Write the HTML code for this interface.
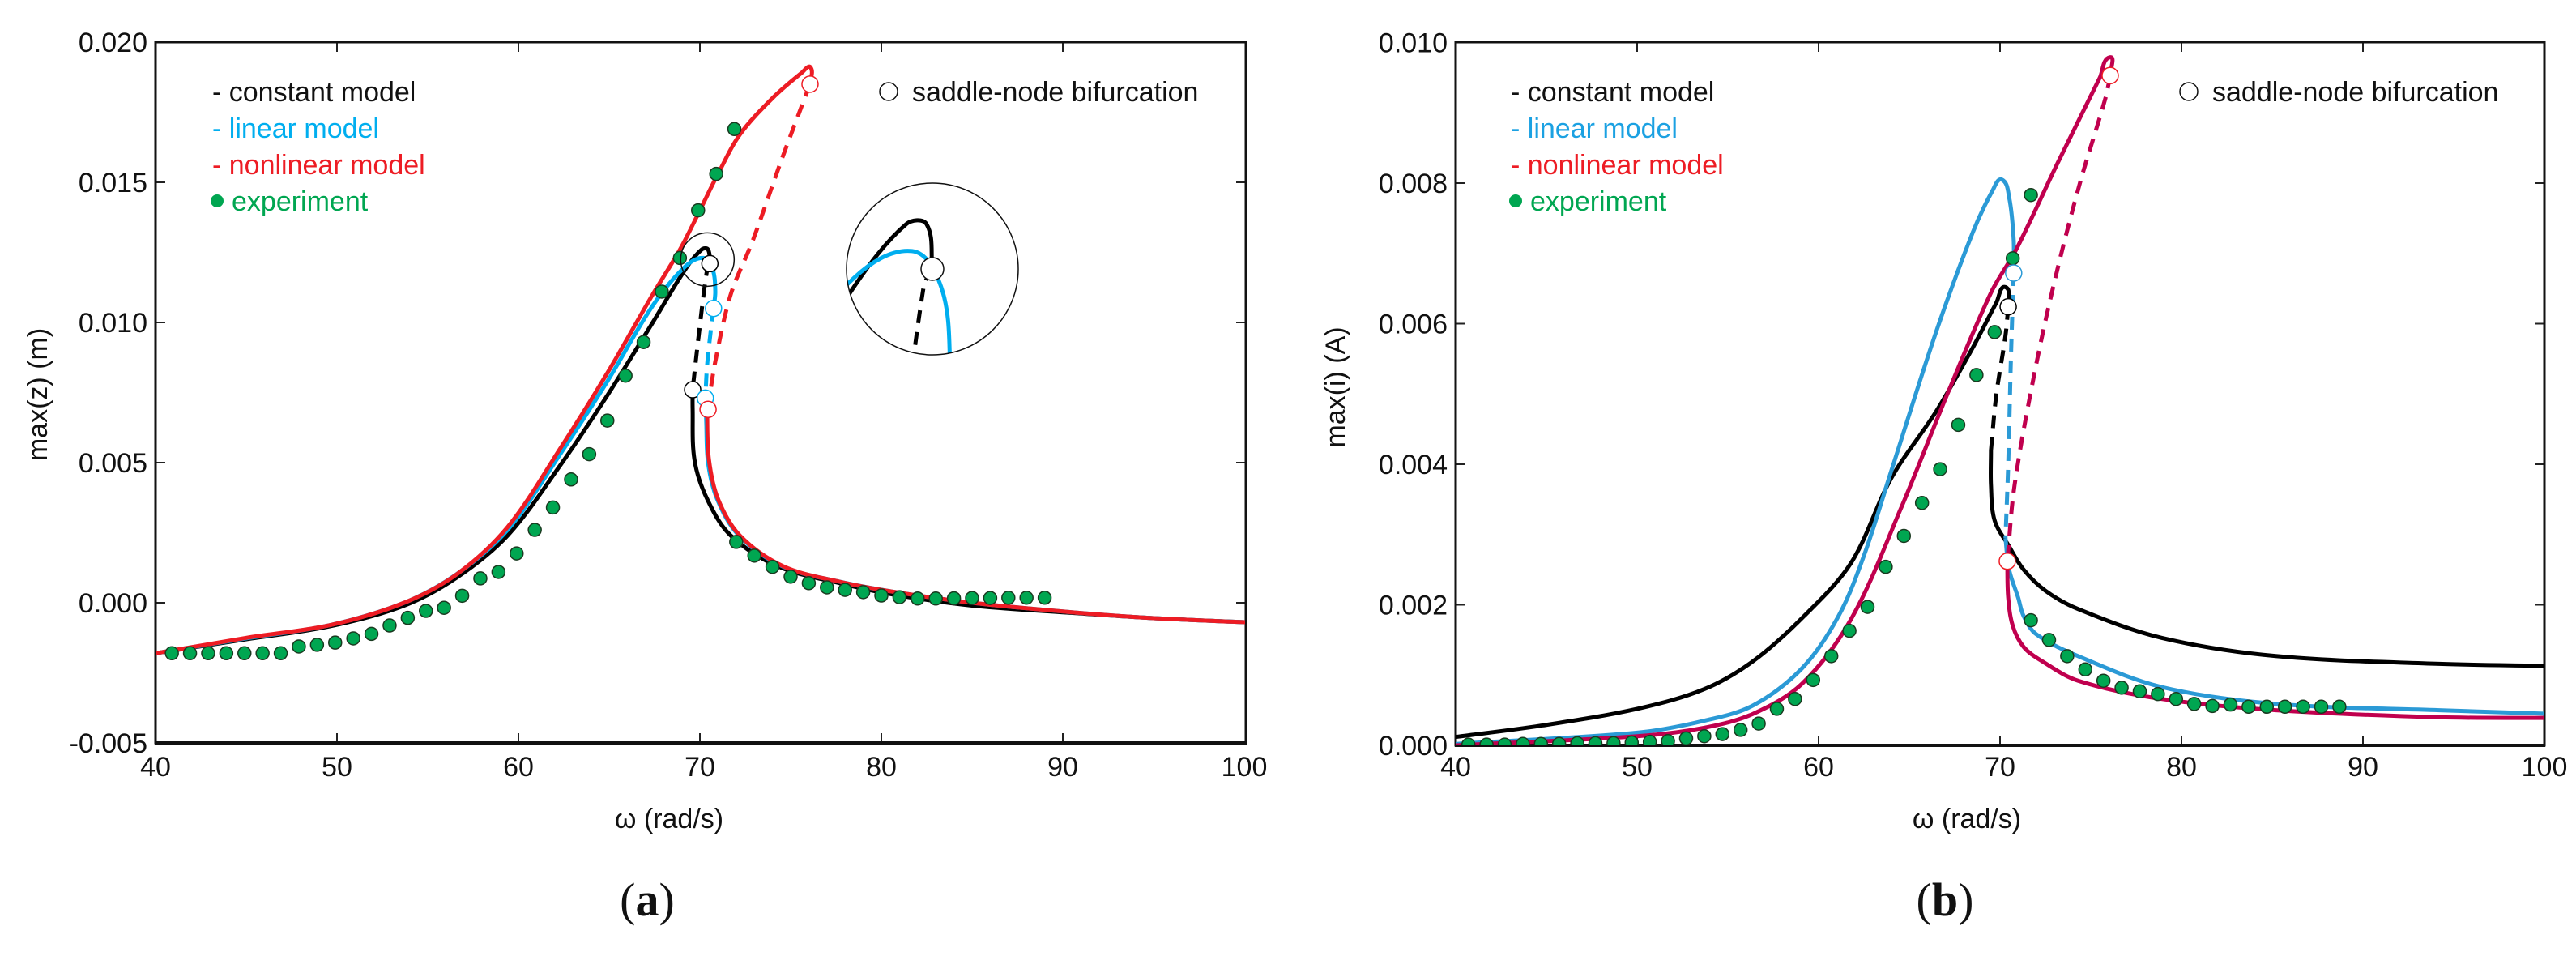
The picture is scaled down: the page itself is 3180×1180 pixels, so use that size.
<!DOCTYPE html>
<html><head><meta charset="utf-8">
<style>
html,body{margin:0;padding:0;background:#fff;width:3180px;height:1180px;overflow:hidden;}
svg{display:block;font-family:"Liberation Sans",sans-serif;}
</style></head>
<body>
<svg id="fig" width="3180" height="1180" viewBox="0 0 3180 1180" xmlns="http://www.w3.org/2000/svg">
<g id="panelA"></g>
<g id="panelB"></g>
</svg>
<script>
// ---------- Panel (a) data: max(z) [m] vs omega [rad/s] ----------
const aXTicks = [40,50,60,70,80,90,100];
const aYTicks = [-0.005,0.000,0.005,0.010,0.015,0.020];
const aYTickLabels = ["-0.005","0.000","0.005","0.010","0.015","0.020"];

const aConstUpW = [40,45,49.6,53.7,56.6,59.4,62.3,64.9,67.4,69.2,70.1,70.45,70.55];
const aConstUpV = [-0.0018,-0.0013,-0.00084,-0.0001,0.0009,0.0024,0.0049,0.0074,0.0100,0.0119,0.0126,0.0126,0.0121];
const aConstDashW = [70.55,70.4,70.0,69.6];
const aConstDashV = [0.0121,0.0119,0.0099,0.0076];
const aConstLowW = [69.6,69.6,69.7,70.4,71.7,74.3,77.7,80.6,85,90.7,95,100.2];
const aConstLowV = [0.0076,0.0070,0.0051,0.0037,0.0024,0.0013,0.0007,0.0003,-0.0001,-0.00037,-0.00055,-0.0007];

const aLinUpW = [40,45,49.6,53.7,56.6,59.4,62.3,64.9,67.4,69.2,70.2,70.7,70.85,70.75];
const aLinUpV = [-0.0018,-0.00127,-0.0008,0.0000,0.00102,0.0026,0.0053,0.0079,0.0106,0.0120,0.0123,0.0119,0.0111,0.0105];
const aLinDashW = [70.75,70.6,70.4,70.3];
const aLinDashV = [0.0105,0.0097,0.0085,0.0073];
const aLinLowW = [70.3,70.35,70.45,70.95,72.15,74.55,77.7,80.6,85,90.7,95,100.2];
const aLinLowV = [0.0073,0.0065,0.0050,0.0037,0.0024,0.0013,0.00075,0.0004,0.0000,-0.00035,-0.00055,-0.0007];

const aNonUpW = [40,45,49.6,53.7,56.65,59.4,62.3,64.9,67.4,68.9,70.0,71.0,72.2,74.0,75.6,76.1,76.07];
const aNonUpV = [-0.0018,-0.00125,-0.0008,0.0000,0.00104,0.0027,0.0055,0.0082,0.0110,0.0126,0.0140,0.0153,0.0167,0.0180,0.0189,0.0191,0.0185];
const aNonDashW = [76.07,75.6,74.5,72.9,71.7,70.85,70.45];
const aNonDashV = [0.0185,0.0177,0.0158,0.0129,0.0110,0.0086,0.0070];
const aNonLowW = [70.45,70.4,70.5,71.0,72.2,74.6,77.7,80.6,85,90.7,95,100.2];
const aNonLowV = [0.0070,0.0067,0.0051,0.0037,0.0024,0.0013,0.00075,0.0004,0.0000,-0.00035,-0.00055,-0.0007];

const aExpW = [40.9,41.9,42.9,43.9,44.9,45.9,46.9,47.9,48.9,49.9,50.9,51.9,52.9,53.9,54.9,55.9,56.9,57.9,58.9,59.9,60.9,61.9,62.9,63.9,64.9,65.9,66.9,67.9,68.9,69.9,70.9,71.9,
               72.0,73.0,74.0,75.0,76.0,77.0,78.0,79.0,80.0,81.0,82.0,83.0,84.0,85.0,86.0,87.0,88.0,89.0];
const aExpV = [-0.0018,-0.0018,-0.0018,-0.0018,-0.0018,-0.0018,-0.0018,-0.00156,-0.0015,-0.00142,-0.00127,-0.00111,-0.00081,-0.00054,-0.00029,-0.00018,0.00025,0.00087,0.0011,0.00176,0.0026,0.0034,0.0044,0.0053,0.0065,0.0081,0.0093,0.0111,0.0123,0.0140,0.0153,0.0169,
               0.00217,0.00168,0.00128,0.00093,0.0007,0.00055,0.00046,0.00038,0.00026,0.0002,0.00015,0.00015,0.00016,0.00017,0.00017,0.00018,0.00018,0.00018];

const aBifW = [70.55,69.6,70.75,70.3,76.07,70.45];
const aBifV = [0.0121,0.0076,0.0105,0.0073,0.0185,0.0069];
const aBifC = ["#000","#000","#00aeef","#00aeef","#ed1c24","#ed1c24"];

// ---------- Panel (b) data: max(i) [A] vs omega [rad/s] ----------
const bXTicks = [40,50,60,70,80,90,100];
const bYTicks = [0,0.002,0.004,0.006,0.008,0.010];
const bYTickLabels = ["0.000","0.002","0.004","0.006","0.008","0.010"];

const bConstUpW = [40,44.7,50,53.7,56.4,59.2,61.8,64.0,66.5,68.5,69.8,70.3,70.45];
const bConstUpV = [0.00012,0.00028,0.00052,0.0008,0.0012,0.00184,0.0026,0.0038,0.00476,0.00566,0.0063,0.00652,0.00624];
const bConstDashW = [70.45,70.3,69.8,69.5];
const bConstDashV = [0.00624,0.00583,0.0050,0.0042];
const bConstLowW = [69.5,69.5,69.7,70.5,71.3,72.5,74.3,78.9,85.2,94.2,100.2];
const bConstLowV = [0.0042,0.0037,0.0032,0.00283,0.0025,0.0022,0.00194,0.00153,0.00127,0.00116,0.00113];

const bLinUpW = [40,50,53.7,56.4,59.1,61.1,62.5,64.0,66.5,68.5,69.6,70.1,70.5,70.75,70.75];
const bLinUpV = [0.00002,0.00018,0.00035,0.00057,0.0011,0.00184,0.0027,0.0039,0.0059,0.0073,0.0079,0.00805,0.0078,0.0072,0.00672];
const bLinDashW = [70.75,70.6,70.45,70.3];
const bLinDashV = [0.00672,0.0055,0.0040,0.00295];
const bLinLowW = [70.3,70.5,71.0,71.3,72.0,74.3,78.9,85.2,94.2,100.2];
const bLinLowV = [0.00295,0.0025,0.0021,0.00184,0.00158,0.00127,0.00083,0.00059,0.0005,0.00045];

const bNonUpW = [40,50,53.7,56.4,59.1,61.8,64.5,67.1,69.5,70.9,73.2,75.5,76.05,76.07];
const bNonUpV = [0.0000,0.00013,0.00025,0.00045,0.00088,0.0018,0.00335,0.0050,0.00644,0.00706,0.0083,0.0095,0.00979,0.00953];
const bNonDashW = [76.07,75.8,74.4,73.0,71.9,70.8,70.4];
const bNonDashV = [0.00953,0.0092,0.0080,0.0066,0.0053,0.0037,0.00262];
const bNonLowW = [70.4,70.45,70.7,71.3,72.3,74.3,78.9,85.2,94.2,100.2];
const bNonLowV = [0.00262,0.0021,0.0017,0.0014,0.0012,0.00092,0.00066,0.0005,0.0004,0.00039];

const bExpW = [40.7,41.7,42.7,43.7,44.7,45.7,46.7,47.7,48.7,49.7,50.7,51.7,52.7,53.7,54.7,55.7,56.7,57.7,58.7,59.7,60.7,61.7,62.7,63.7,64.7,65.7,66.7,67.7,68.7,69.7,70.7,71.7,
               71.7,72.7,73.7,74.7,75.7,76.7,77.7,78.7,79.7,80.7,81.7,82.7,83.7,84.7,85.7,86.7,87.7,88.7];
const bExpV = [0.00001,0.00001,0.00001,0.00002,0.00002,0.00002,0.00003,0.00003,0.00003,0.00004,0.00005,0.00006,0.0001,0.00013,0.00016,0.00022,0.00031,0.00052,0.00066,0.00093,0.00127,0.00163,0.00197,0.00254,0.00298,0.00345,0.00393,0.00456,0.00527,0.00588,0.00693,0.00783,
               0.00178,0.0015,0.00127,0.00108,0.00092,0.00082,0.00077,0.00073,0.00066,0.00059,0.00056,0.00058,0.00055,0.00055,0.00055,0.00055,0.00055,0.00055];

const bBifW = [70.45,70.75,76.07,70.4];
const bBifV = [0.00624,0.00672,0.00953,0.00262];
const bBifC = ["#000","#2b9ad6","#ed1c24","#ed1c24"];

// ---------- helpers ----------
const NS = "http://www.w3.org/2000/svg";
function mk(parent, tag, attrs, name, inter){
  const el = document.createElementNS(NS, tag);
  for (const k in attrs) el.setAttribute(k, attrs[k]);
  
  
  parent.appendChild(el);
  return el;
}
function smoothPath(pts){
  if (pts.length < 2) return "";
  let d = "M" + pts[0][0].toFixed(1) + "," + pts[0][1].toFixed(1);
  const dist = (a,b)=>Math.hypot(a[0]-b[0],a[1]-b[1]);
  for (let i = 0; i < pts.length - 1; i++){
    const p0 = pts[Math.max(0,i-1)], p1 = pts[i], p2 = pts[i+1], p3 = pts[Math.min(pts.length-1,i+2)];
    const seg = dist(p1,p2);
    const l1 = dist(p0,p2) || 1, l2 = dist(p1,p3) || 1;
    const k1 = seg/3/l1, k2 = seg/3/l2;
    const c1 = [p1[0] + (p2[0]-p0[0])*k1, p1[1] + (p2[1]-p0[1])*k1];
    const c2 = [p2[0] - (p3[0]-p1[0])*k2, p2[1] - (p3[1]-p1[1])*k2];
    d += " C" + c1[0].toFixed(1)+","+c1[1].toFixed(1)+" "+c2[0].toFixed(1)+","+c2[1].toFixed(1)+" "+p2[0].toFixed(1)+","+p2[1].toFixed(1);
  }
  return d;
}
function pts(ws, vs, xs, ys){ return ws.map((w,i)=>[xs(w), ys(vs[i])]); }

function axes(g, cfg){
  const {x0,x1,yTop,yBot,xs,ys,xTicks,yTicks,yLabels,ylabel,panel,cx} = cfg;
  xTicks.forEach(t=>{
    const x = xs(t);
    if (t>40 && t<100){
      mk(g,'line',{x1:x,x2:x,y1:yBot,y2:yBot-12,stroke:'#222','stroke-width':2},'x-tick-bottom',false);
      mk(g,'line',{x1:x,x2:x,y1:yTop,y2:yTop+12,stroke:'#222','stroke-width':2},'x-tick-top',false);
    }
    const tl = mk(g,'text',{x:x, y:958, 'font-size':34,'text-anchor':'middle',fill:'#111'},'x-tick-label',false);
    tl.textContent = String(t);
  });
  yTicks.forEach((t,i)=>{
    const y = ys(t);
    mk(g,'line',{x1:x0,x2:x0+12,y1:y,y2:y,stroke:'#222','stroke-width':2},'y-tick-left',false);
    mk(g,'line',{x1:x1,x2:x1-12,y1:y,y2:y,stroke:'#222','stroke-width':2},'y-tick-right',false);
    const tl = mk(g,'text',{x:x0-10, y:y+12, 'font-size':34,'text-anchor':'end',fill:'#111'},'y-tick-label',false);
    tl.textContent = yLabels[i];
  });
  mk(g,'rect',{x:x0,y:yTop,width:x1-x0,height:yBot-yTop,fill:'none',stroke:'#111','stroke-width':3},'plot-frame',false);
  mk(g,'line',{x1:x0-1,x2:x1+1,y1:yBot,y2:yBot,stroke:'#111','stroke-width':4},'x-axis-line',false);
  const xl = mk(g,'text',{x:cx, y:1022,'font-size':34,'text-anchor':'middle',fill:'#111'},'x-axis-title',false);
  xl.textContent = "ω (rad/s)";
  const yl = mk(g,'text',{x:0,y:0,'font-size':34,'text-anchor':'middle',fill:'#111',transform:`translate(${cfg.ylx},${cfg.yly}) rotate(-90)`},'y-axis-title',false);
  yl.textContent = ylabel;
  const pl = mk(g,'text',{x:cx-27,y:1130,'font-size':58,'text-anchor':'middle',fill:'#111','font-family':'"Liberation Serif",serif'},'panel-label',false);
  pl.innerHTML = '(<tspan font-weight="bold">'+panel+'</tspan>)';
}

function line(g, p, color, dashed, name, w){
  const a = {d:smoothPath(p), fill:'none', stroke:color, 'stroke-width':w||5, 'stroke-linejoin':'round','stroke-linecap':'butt'};
  if (dashed) a['stroke-dasharray'] = '16 11';
  mk(g,'path',a,name,false);
}

function legend(g, lx, blue, red, green, sx){
  const rows = [["- ","constant model","#111"],["- ","linear model",blue],["- ","nonlinear model",red]];
  rows.forEach((r,i)=>{
    const t = mk(g,'text',{x:lx,y:125+i*45,'font-size':34,fill:r[2]},'legend-entry',false);
    t.textContent = r[0]+r[1];
  });
  mk(g,'circle',{cx:lx+6,cy:248,r:8,fill:green},'legend-marker-experiment',false);
  const t4 = mk(g,'text',{x:lx+24,y:260,'font-size':34,fill:green},'legend-entry',false);
  t4.textContent = "experiment";
  mk(g,'circle',{cx:sx,cy:113,r:11,fill:'#fff',stroke:'#111','stroke-width':1.5},'legend-marker-bifurcation',false);
  const t5 = mk(g,'text',{x:sx+29,y:125,'font-size':34,fill:'#111'},'legend-entry',false);
  t5.textContent = "saddle-node bifurcation";
}

// ---------- Panel A ----------
(function(){
  const g = document.getElementById('panelA');
  const xs = w => 192 + (w-40)*22.4;
  const ys = v => 744 - v*34600;
  axes(g,{x0:192,x1:1538,yTop:52,yBot:917,xs,ys,xTicks:aXTicks,yTicks:aYTicks,yLabels:aYTickLabels,ylabel:"max(z) (m)",panel:"a",cx:826,ylx:58,yly:487});
  const clip = mk(g,'clipPath',{id:'clipA'},'plot-clip',false);
  mk(clip,'rect',{x:193,y:53,width:1344,height:863},'plot-clip-rect',false);
  const pg = mk(g,'g',{'clip-path':'url(#clipA)'},'plot-area',false);
  const BL='#000', BU='#00aeef', RD='#ed1c24', GR='#00a651';
  line(pg, pts(aConstUpW,aConstUpV,xs,ys), BL, false, 'constant-model-stable-upper');
  line(pg, pts(aConstDashW,aConstDashV,xs,ys), BL, true, 'constant-model-unstable');
  line(pg, pts(aConstLowW,aConstLowV,xs,ys), BL, false, 'constant-model-stable-lower');
  line(pg, pts(aLinUpW,aLinUpV,xs,ys), BU, false, 'linear-model-stable-upper');
  line(pg, pts(aLinDashW,aLinDashV,xs,ys), BU, true, 'linear-model-unstable');
  line(pg, pts(aLinLowW,aLinLowV,xs,ys), BU, false, 'linear-model-stable-lower');
  line(pg, pts(aNonUpW,aNonUpV,xs,ys), RD, false, 'nonlinear-model-stable-upper');
  line(pg, pts(aNonDashW,aNonDashV,xs,ys), RD, true, 'nonlinear-model-unstable');
  line(pg, pts(aNonLowW,aNonLowV,xs,ys), RD, false, 'nonlinear-model-stable-lower');
  aExpW.forEach((w,i)=>{
    mk(pg,'circle',{cx:xs(w),cy:ys(aExpV[i]),r:8,fill:GR,stroke:'#1a3a20','stroke-width':1.5},'experiment-point',false);
  });
  aBifW.forEach((w,i)=>{
    mk(pg,'circle',{cx:xs(w),cy:ys(aBifV[i]),r:10,fill:'#fff',stroke:aBifC[i],'stroke-width':1.5},'bifurcation-marker',false);
  });
  const zc = [xs(70.55), ys(0.0121)];
  mk(g,'circle',{cx:zc[0]-3,cy:zc[1]-5,r:33,fill:'none',stroke:'#111','stroke-width':1.5},'zoom-region-circle',false);
  const ic = [1151,332], R = 106, M = 3.2;
  const tf = p => [ic[0] + (p[0]-zc[0])*M, ic[1] + (p[1]-zc[1])*M];
  const ig = mk(g,'g',{},'zoom-inset',false);
  const iclip = mk(ig,'clipPath',{id:'clipInset'},'inset-clip',false);
  mk(iclip,'circle',{cx:ic[0],cy:ic[1],r:R},'inset-clip-circle',false);
  const ip = mk(ig,'g',{'clip-path':'url(#clipInset)'},'inset-plot',false);
  line(ip, pts(aConstUpW,aConstUpV,xs,ys).map(tf), BL, false, 'inset-constant-upper', 5);
  line(ip, pts(aConstDashW,aConstDashV,xs,ys).map(tf), BL, true, 'inset-constant-unstable', 5);
  line(ip, pts(aLinUpW,aLinUpV,xs,ys).map(tf), BU, false, 'inset-linear-upper', 5);
  line(ip, pts(aLinDashW,aLinDashV,xs,ys).map(tf), BU, false, 'inset-linear-unstable', 5);
  mk(ip,'circle',{cx:ic[0],cy:ic[1],r:14,fill:'#fff',stroke:'#111','stroke-width':1.5},'inset-bifurcation-marker',false);
  mk(ig,'circle',{cx:ic[0],cy:ic[1],r:R,fill:'none',stroke:'#111','stroke-width':1.5},'inset-border',false);
  legend(g, 262, BU, RD, GR, 1097);
})();

// ---------- Panel B ----------
(function(){
  const g = document.getElementById('panelB');
  const xs = w => 1797 + (w-40)*22.4;
  const ys = v => 920 - v*86750;
  axes(g,{x0:1797,x1:3141,yTop:52,yBot:920,xs,ys,xTicks:bXTicks,yTicks:bYTicks,yLabels:bYTickLabels,ylabel:"max(i) (A)",panel:"b",cx:2428,ylx:1660,yly:478});
  const clip = mk(g,'clipPath',{id:'clipB'},'plot-clip',false);
  mk(clip,'rect',{x:1798,y:53,width:1342,height:866},'plot-clip-rect',false);
  const pg = mk(g,'g',{'clip-path':'url(#clipB)'},'plot-area',false);
  const BL='#000', BU='#2b9ad6', RD='#c0004e', GR='#00a651';
  line(pg, pts(bConstUpW,bConstUpV,xs,ys), BL, false, 'constant-model-stable-upper');
  line(pg, pts(bConstDashW,bConstDashV,xs,ys), BL, true, 'constant-model-unstable');
  line(pg, pts(bConstLowW,bConstLowV,xs,ys), BL, false, 'constant-model-stable-lower');
  line(pg, pts(bLinUpW,bLinUpV,xs,ys), BU, false, 'linear-model-stable-upper');
  line(pg, pts(bLinDashW,bLinDashV,xs,ys), BU, true, 'linear-model-unstable');
  line(pg, pts(bLinLowW,bLinLowV,xs,ys), BU, false, 'linear-model-stable-lower');
  line(pg, pts(bNonUpW,bNonUpV,xs,ys), RD, false, 'nonlinear-model-stable-upper');
  line(pg, pts(bNonDashW,bNonDashV,xs,ys), RD, true, 'nonlinear-model-unstable');
  line(pg, pts(bNonLowW,bNonLowV,xs,ys), RD, false, 'nonlinear-model-stable-lower');
  bExpW.forEach((w,i)=>{
    mk(pg,'circle',{cx:xs(w),cy:ys(bExpV[i]),r:8,fill:GR,stroke:'#1a3a20','stroke-width':1.5},'experiment-point',false);
  });
  bBifW.forEach((w,i)=>{
    mk(pg,'circle',{cx:xs(w),cy:ys(bBifV[i]),r:10,fill:'#fff',stroke:bBifC[i],'stroke-width':1.5},'bifurcation-marker',false);
  });
  legend(g, 1865, '#1ba1e2', '#ed1c24', GR, 2702);
})();
</script>
</body></html>
